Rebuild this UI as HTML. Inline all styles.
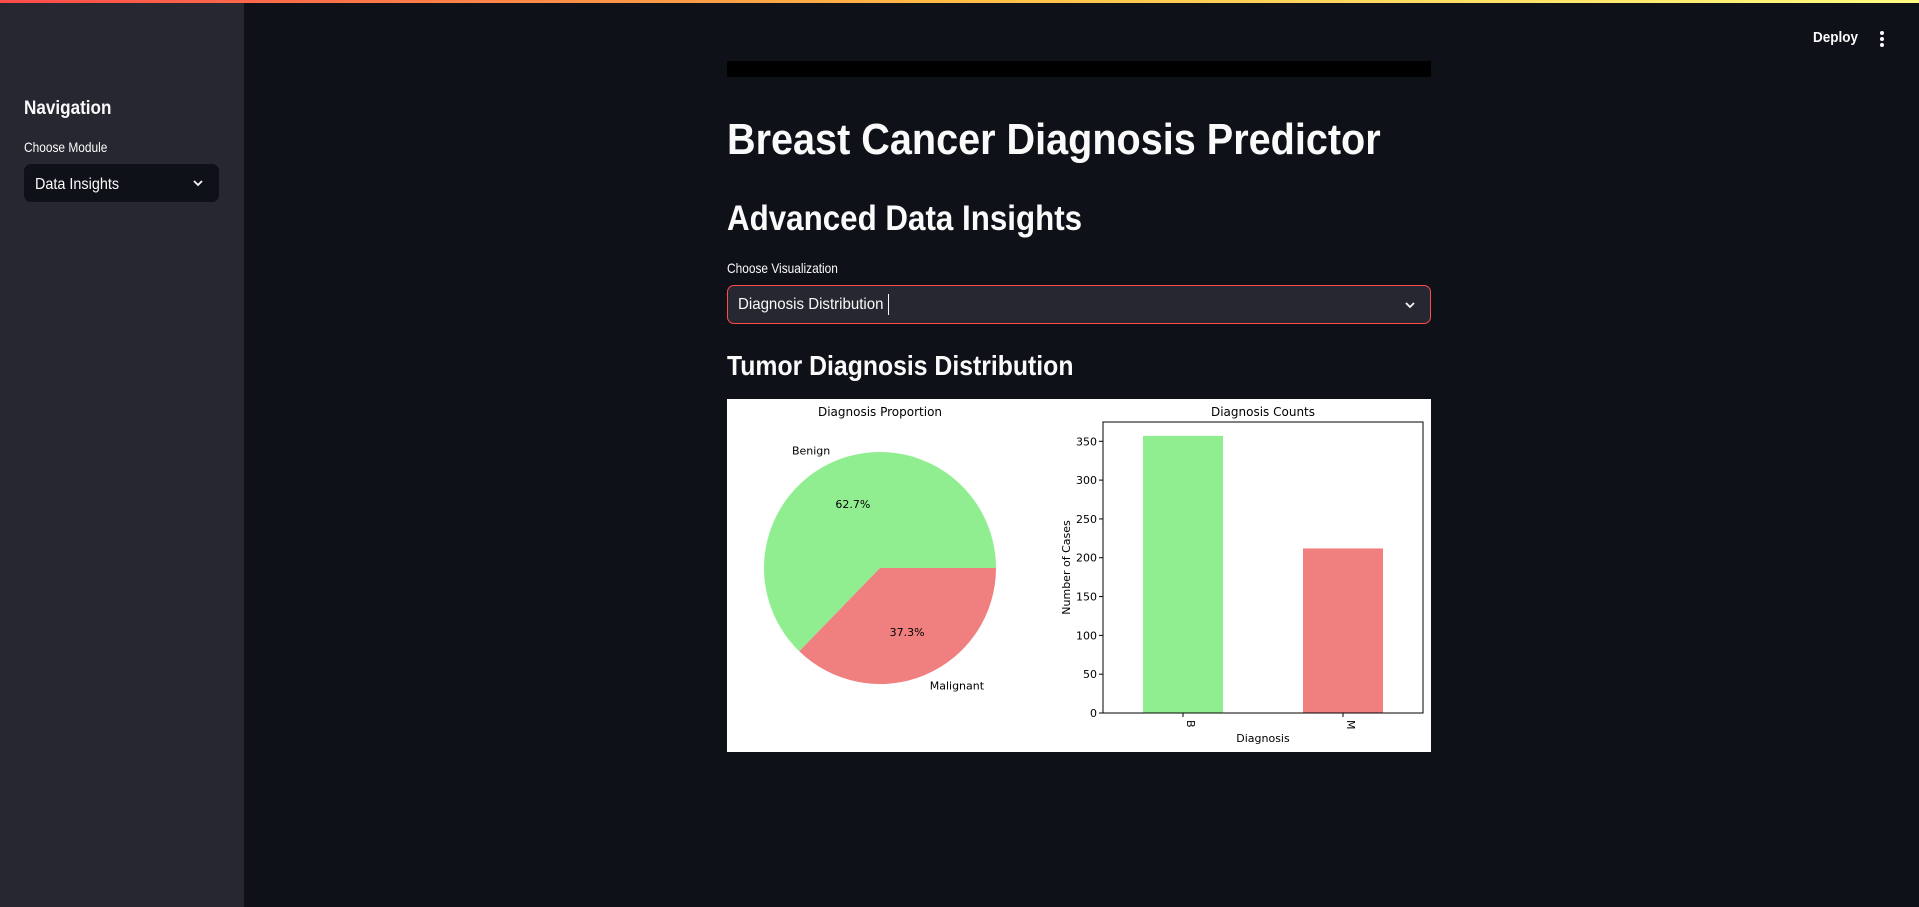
<!DOCTYPE html>
<html><head><meta charset="utf-8">
<style>
*{margin:0;padding:0;box-sizing:border-box}
body{width:1919px;height:907px;background:#0e1117;font-family:"Liberation Sans",sans-serif;color:#fafafa;position:relative;overflow:hidden}
.abs{position:absolute}
.t{white-space:nowrap;transform-origin:left top}
</style></head><body>
<div class="abs" style="left:0;top:0;width:1919px;height:3px;background:linear-gradient(90deg,#ff4b4b,#ffbd45,#fffd80)"></div>
<div class="abs" style="left:0;top:3px;width:244px;height:904px;background:#262730"></div>
<div class="abs t" style="left:24px;top:98px;font-size:19px;font-weight:bold;transform:scaleX(0.9)">Navigation</div>
<div class="abs t" style="left:24px;top:139px;font-size:14px;transform:scaleX(0.85)">Choose Module</div>
<div class="abs" style="left:24px;top:164px;width:195px;height:38px;background:#0e1117;border-radius:7px">
 <span class="abs t" style="left:11px;top:12px;font-size:16px;transform:scaleX(0.9)">Data Insights</span>
 <svg class="abs" style="left:168px;top:14px" width="12" height="10"><path d="M2 3 L6 7 L10 3" stroke="#fafafa" stroke-width="1.8" fill="none"/></svg>
</div>
<div class="abs t" style="left:1813px;top:29px;font-size:15px;font-weight:bold;transform:scaleX(0.9)">Deploy</div>
<div class="abs" style="left:1878px;top:29px;width:8px;height:18px">
 <div class="abs" style="left:2px;top:2px;width:4px;height:4px;border-radius:2px;background:#fafafa"></div>
 <div class="abs" style="left:2px;top:8px;width:4px;height:4px;border-radius:2px;background:#fafafa"></div>
 <div class="abs" style="left:2px;top:14px;width:4px;height:4px;border-radius:2px;background:#fafafa"></div>
</div>
<div class="abs" style="left:727px;top:61px;width:704px;height:16px;background:#000"></div>
<div class="abs t" style="left:727px;top:115px;font-size:44px;font-weight:bold;transform:scaleX(0.9)">Breast Cancer Diagnosis Predictor</div>
<div class="abs t" style="left:727px;top:199px;font-size:35px;font-weight:bold;transform:scaleX(0.895)">Advanced Data Insights</div>
<div class="abs t" style="left:727px;top:260px;font-size:14px;transform:scaleX(0.85)">Choose Visualization</div>
<div class="abs" style="left:727px;top:285px;width:704px;height:39px;background:#262730;border:1px solid #ff4b4b;border-radius:7px">
 <span class="abs t" style="left:10px;top:10px;font-size:16px;transform:scaleX(0.94)">Diagnosis Distribution</span>
 <div class="abs" style="left:160px;top:8px;width:1px;height:21px;background:#fafafa"></div>
 <svg class="abs" style="left:676px;top:14px" width="12" height="10"><path d="M2 3 L6 7 L10 3" stroke="#fafafa" stroke-width="1.8" fill="none"/></svg>
</div>
<div class="abs t" style="left:727px;top:350px;font-size:28px;font-weight:bold;transform:scaleX(0.885)">Tumor Diagnosis Distribution</div>

<svg class="abs" style="left:727px;top:399px" width="704" height="353" id="fig" font-family="'DejaVu Sans',sans-serif"></svg>
<script>
const categories=["B","M"];
const labels=["Benign","Malignant"];
const counts=[357,212];
const yTicks=[0,50,100,150,200,250,300,350];
const colors=["#90ee90","#f08080"];
const NS="http://www.w3.org/2000/svg";
const svg=document.getElementById('fig');
function mk(tag,attrs,text){const e=document.createElementNS(NS,tag);for(const k in attrs)e.setAttribute(k,attrs[k]);if(text!==undefined)e.textContent=text;svg.appendChild(e);return e;}
mk('rect',{x:0,y:0,width:704,height:353,fill:'#fff'});
const cx=153,cy=169,r=116;
const total=counts.reduce((a,b)=>a+b,0);
let t0=mk('text',{x:153,y:17,'text-anchor':'middle','font-size':12,fill:'#000'},'Diagnosis Proportion');

let a=0;
counts.forEach((v,i)=>{
 const frac=v/total,a1=a+frac*2*Math.PI;
 const x0=cx+r*Math.cos(a),y0=cy-r*Math.sin(a),x1=cx+r*Math.cos(a1),y1=cy-r*Math.sin(a1);
 const p=mk('path',{d:`M${cx},${cy} L${x0},${y0} A${r},${r} 0 ${frac>0.5?1:0} 0 ${x1},${y1} Z`,fill:colors[i]});
 
 
 const m=(a+a1)/2;
 const lx=cx+1.1*r*Math.cos(m),ly=cy-1.1*r*Math.sin(m);
 const l=mk('text',{x:lx,y:ly+4,'text-anchor':Math.cos(m)<0?'end':'start','font-size':11,fill:'#000'},labels[i]);
 
 
 const px=cx+0.6*r*Math.cos(m),py=cy-0.6*r*Math.sin(m);
 const q=mk('text',{x:px,y:py+4,'text-anchor':'middle','font-size':11,fill:'#000'},(frac*100).toFixed(1)+'%');
 
 
 a=a1;
});
const L=376,R=696,T=23,B=314;
const ymax=Math.max(...counts)*1.05;
const ys=v=>B-(v/ymax)*(B-T);
const xs=i=>L+(i+0.5)*(R-L)/categories.length;
const bw=0.5*(R-L)/categories.length;
counts.forEach((v,i)=>{
 const b=mk('rect',{x:xs(i)-bw/2,y:ys(v),width:bw,height:B-ys(v),fill:colors[i]});
 
 
 mk('line',{x1:xs(i),x2:xs(i),y1:B,y2:B+4,stroke:'#000','stroke-width':1});
 const tl=mk('text',{x:0,y:0,transform:`translate(${xs(i)+4},${B+7}) rotate(90)`,'font-size':11,fill:'#000'},categories[i]);
 
 
});
yTicks.forEach(v=>{
 mk('line',{x1:L-4,x2:L,y1:ys(v),y2:ys(v),stroke:'#000','stroke-width':1});
 const tl=mk('text',{x:L-6,y:ys(v)+4,'text-anchor':'end','font-size':11,fill:'#000'},v);
 
 
});
mk('rect',{x:L,y:T,width:R-L,height:B-T,fill:'none',stroke:'#000','stroke-width':1});
let bt=mk('text',{x:(L+R)/2,y:17,'text-anchor':'middle','font-size':12,fill:'#000'},'Diagnosis Counts');

let xl=mk('text',{x:(L+R)/2,y:343,'text-anchor':'middle','font-size':11,fill:'#000'},'Diagnosis');

let yl=mk('text',{x:0,y:0,transform:`translate(343,${(T+B)/2}) rotate(-90)`,'text-anchor':'middle','font-size':11,fill:'#000'},'Number of Cases');

</script>
</body></html>
